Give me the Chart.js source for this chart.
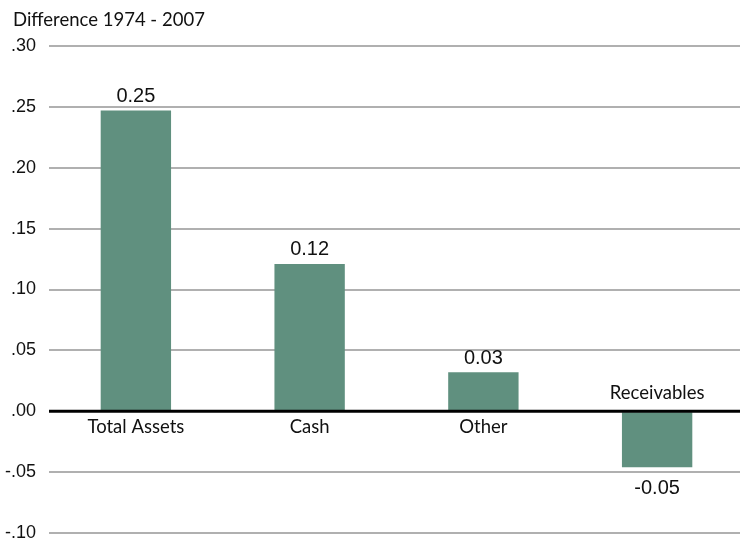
<!DOCTYPE html>
<html>
<head>
<meta charset="utf-8">
<script src="https://cdn.jsdelivr.net/npm/chart.js@4/dist/chart.umd.min.js"></script>
<style>
  html, body { margin: 0; background: #fff; overflow: hidden; }
  #wrap { width: 740px; height: 540px; overflow: hidden; }
</style>
</head>
<body>
<div id="wrap"><canvas id="diffChart" width="744" height="540"></canvas></div>
<script>
// chart data
const categories = ["Total Assets", "Cash", "Other", "Receivables"];
const differences = [0.247, 0.121, 0.032, -0.046];
const yTicks = [-0.10, -0.05, 0.00, 0.05, 0.10, 0.15, 0.20, 0.25, 0.30];
const titleText = "Difference 1974 - 2007";

const barColor = "#60907f";
const labelFont = "Lato, 'DejaVu Sans', sans-serif";
const numFont = "'Liberation Sans', Arial, sans-serif";

// draws title, zero line, category names and value labels
const labelPlugin = {
  id: "labels",
  afterDatasetsDraw(chart) {
    const ctx = chart.ctx;
    const area = chart.chartArea;
    const y = chart.scales.y;
    const zeroY = y.getPixelForValue(0);

    ctx.save();
    ctx.strokeStyle = "#000";
    ctx.lineWidth = 3;
    ctx.beginPath();
    ctx.moveTo(area.left, zeroY);
    ctx.lineTo(area.right, zeroY);
    ctx.stroke();

    ctx.fillStyle = "#111";
    ctx.textBaseline = "middle";
    ctx.textAlign = "left";
    ctx.font = "18.5px " + labelFont;
    ctx.fillText(titleText, 13, 20);

    const meta = chart.getDatasetMeta(0);
    meta.data.forEach(function (bar, i) {
      const v = differences[i];
      ctx.textAlign = "center";
      ctx.font = "18.5px " + labelFont;
      if (v >= 0) {
        ctx.fillText(categories[i], bar.x, zeroY + 16);
        ctx.font = "20px " + numFont;
        ctx.fillText(v.toFixed(2), bar.x, bar.y - 14);
      } else {
        ctx.fillText(categories[i], bar.x, zeroY - 18);
        ctx.font = "20px " + numFont;
        ctx.fillText(v.toFixed(2), bar.x, bar.y + 21);
      }
    });
    ctx.restore();
  }
};

new Chart(document.getElementById("diffChart"), {
  type: "bar",
  data: {
    labels: categories,
    datasets: [{
      data: differences,
      backgroundColor: barColor,
      borderWidth: 0,
      barPercentage: 0.405,
      categoryPercentage: 1
    }]
  },
  options: {
    responsive: false,
    animation: false,
    layout: { padding: { top: 46, bottom: 7, left: 0, right: 0 } },
    plugins: {
      legend: { display: false },
      tooltip: { enabled: false }
    },
    scales: {
      x: { display: false },
      y: {
        min: -0.10,
        max: 0.30,
        afterBuildTicks(axis) {
          axis.ticks = yTicks.map(v => ({ value: v }));
        },
        afterFit(axis) {
          axis.width = 49;
          axis.paddingTop = 0;
          axis.paddingBottom = 0;
        },
        border: { display: false },
        grid: {
          drawTicks: false,
          color: "#b0b0b0",
          lineWidth: 2
        },
        ticks: {
          padding: 13,
          color: "#111",
          font: { family: numFont, size: 18 },
          callback: function (v) {
            const s = Number(v).toFixed(2);
            return s.replace("0.", ".");
          }
        }
      }
    }
  },
  plugins: [labelPlugin]
});
</script>
</body>
</html>
